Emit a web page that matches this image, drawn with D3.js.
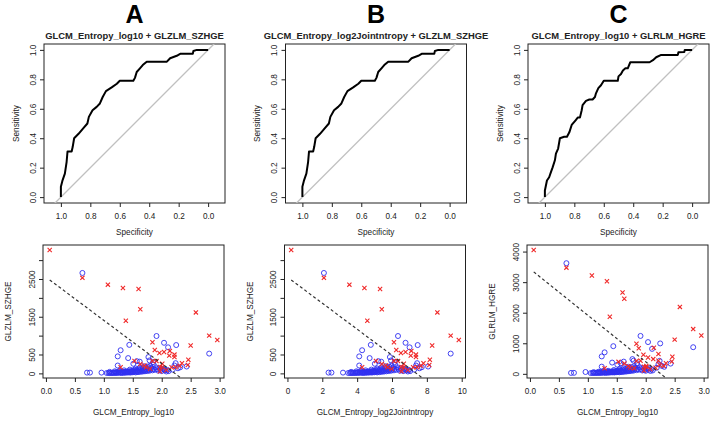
<!DOCTYPE html>
<html>
<head>
<meta charset="utf-8">
<script src="https://d3js.org/d3.v7.min.js"></script>
<style>
body { margin: 0; background: #fff; }
</style>
</head>
<body>
<svg id="fig" width="717" height="421"></svg>
<script>
// ---- text ----
var panelLetters = ["A", "B", "C"];
var rocTitles = ["GLCM_Entropy_log10 + GLZLM_SZHGE",
                 "GLCM_Entropy_log2Jointntropy + GLZLM_SZHGE",
                 "GLCM_Entropy_log10 + GLRLM_HGRE"];
var scatterXLabels = ["GLCM_Entropy_log10", "GLCM_Entropy_log2Jointntropy", "GLCM_Entropy_log10"];
var scatterYLabels = ["GLZLM_SZHGE", "GLZLM_SZHGE", "GLRLM_HGRE"];

// ---- tick values ----
var rocTicks = [1, 0.8, 0.6, 0.4, 0.2, 0];
var log10Ticks = [0, 0.5, 1, 1.5, 2, 2.5, 3];
var log2Ticks = [0, 2, 4, 6, 8, 10];
var szhgeTicks = [0, 500, 1000, 1500, 2000, 2500, 3000];
var szhgeLabelled = [0, 500, 1500, 2500];
var hgreTicks = [0, 1000, 2000, 3000, 4000];

// ---- ROC curves (B uses the same model as A: log2 is a rescaled log10) ----
var rocASpec = [1.0,1.0,0.99,0.973,0.961,0.955,0.927,0.92,0.91,0.88,0.85,0.82,0.81,0.785,0.757,0.735,0.716,0.694,0.655,0.62,0.60,0.508,0.497,0.485,0.463,0.444,0.417,0.28,0.258,0.213,0.19,0.104,0.10,0.077,0.0];
var rocASens = [0.0,0.07,0.11,0.16,0.24,0.31,0.31,0.34,0.40,0.43,0.465,0.50,0.545,0.59,0.613,0.636,0.68,0.72,0.745,0.77,0.79,0.79,0.81,0.85,0.875,0.897,0.92,0.92,0.943,0.96,0.973,0.973,0.993,1.0,1.0];
var rocCSpec = [1.0,1.0,0.986,0.971,0.959,0.948,0.932,0.925,0.91,0.898,0.869,0.85,0.834,0.818,0.793,0.777,0.762,0.75,0.744,0.721,0.698,0.676,0.66,0.653,0.637,0.619,0.60,0.505,0.50,0.483,0.47,0.453,0.437,0.42,0.289,0.266,0.244,0.21,0.097,0.093,0.053,0.05,0.0];
var rocCSens = [0.0,0.045,0.113,0.135,0.17,0.20,0.25,0.295,0.33,0.40,0.41,0.41,0.44,0.49,0.52,0.54,0.54,0.59,0.625,0.654,0.663,0.663,0.68,0.705,0.74,0.76,0.79,0.79,0.82,0.836,0.86,0.875,0.875,0.916,0.916,0.93,0.95,0.966,0.966,0.984,0.985,1.0,1.0];

// ---- scatter: red crosses (events) ----
var redEntropy = [0.065,0.63,1.07,1.33,1.60,1.63,1.38,2.59,2.82,2.96,2.50,1.84,1.88,1.96,2.04,2.13,2.14,2.22,2.22,2.35,2.46,2.45,1.53,1.63,1.84,1.91,2.01,1.29,1.73,1.97,2.24,2.08,1.80,1.97,2.17,2.31,1.70,2.01];
var redSZHGE = [3270,2530,2350,2260,2235,1700,1395,1615,1000,885,740,825,620,540,568,470,595,497,432,270,362,220,330,250,325,325,255,160,165,170,160,90,119,54,162,200,208,162];
var redHGRE = [4054,3474,3216,3028,2660,2459,1866,2190,1464,1252,1119,985,838,626,536,482,851,650,430,348,560,402,392,335,420,430,258,181,201,230,291,150,180,110,200,260,250,220];

// ---- scatter: blue circles (non-events) ----
var blueEntropy = [0.63,0.71,0.76,0.96,1.91,2.04,2.25,2.11,1.44,1.29,1.24,2.82,1.77,1.24,1.42,1.79,1.85,2.24,2.43,2.22,2.19,2.28,2.05,1.57,1.51,1.62,2.32,
  1.05,1.08,1.10,1.12,1.14,1.15,1.17,1.18,1.20,1.21,1.22,1.24,1.25,1.26,1.28,1.29,1.30,1.31,1.32,1.33,1.34,1.35,1.36,1.37,1.38,1.39,1.40,1.41,1.42,1.43,1.44,1.45,1.46,1.47,1.48,1.49,1.50,1.51,1.52,1.53,1.54,1.55,1.56,1.57,1.58,1.59,1.60,1.61,1.62,1.63,1.64,1.65,1.66,1.67,1.68,1.69,1.70,1.71,1.72,1.73,1.74,1.75,1.76,1.77,1.78,1.79,1.80,1.81,1.82,1.84,1.85,1.86,1.88,1.90,1.92,1.94,1.96,1.98,2.00,2.02,2.05,2.08,2.10,2.12,
  1.10,1.19,1.27,1.35,1.45,1.55,1.62,1.70];
var blueSZHGE = [2660,20,20,20,990,810,750,690,755,613,450,524,432,208,405,343,297,270,181,208,100,135,100,324,254,310,162,
  10,12,8,15,10,20,12,18,25,10,30,15,22,35,18,28,12,40,20,30,15,45,25,35,18,50,28,40,22,60,32,45,20,55,35,70,28,48,85,38,60,25,95,45,70,33,110,55,80,40,120,60,90,48,140,70,100,55,160,80,115,62,180,90,130,70,200,100,150,80,120,230,95,160,110,70,140,90,60,120,80,50,90,60,
  40,55,70,80,100,130,150,190];
var blueHGRE = [3620,30,33,60,1240,1039,995,817,905,703,570,871,482,235,368,430,350,425,335,315,200,260,180,348,300,400,230,
  25,30,28,35,30,40,32,38,45,30,50,35,42,55,40,48,35,60,42,52,38,65,48,58,42,72,52,62,46,85,55,70,45,80,60,95,54,74,110,62,88,52,125,72,98,60,140,82,110,68,155,90,120,76,175,100,135,85,200,112,150,95,220,125,170,105,250,140,195,120,160,285,135,210,150,110,190,130,100,170,130,95,150,110,
  55,70,90,100,125,160,185,230];

// ---- fitted decision boundaries (dashed): SZHGE/HGRE = a + b * entropy ----
var boundaryIntercept = [2549, 2549, 3435];
var boundarySlope = [-1145, -344.7, -1520];
var log2PerLog10 = 3.3219; // log2(E) = log10(E) / log10(2)

// ---- layout ----
var panelShift = [0, 241.5, 484];
var rocBox = {left: 44, right: 225, top: 44, bottom: 203};
var scatBox = {left: 43, right: 224, top: 245, bottom: 378};
var font = "'Liberation Sans', Arial, Helvetica, sans-serif";
var ink = "#222";
var redCol = "#f02828", blueCol = "#3030f0";

var svg = d3.select("#fig");

function styleAxis(ax) {
    ax.attr("font-family", font).attr("font-size", 8.2);
    ax.select(".domain").remove();
    ax.selectAll("line").attr("stroke", ink);
    ax.selectAll("text").attr("fill", ink);
}

function xAxis(g, scale, ticks, fmt, y0) {
    var ax = g.append("g")
        .attr("transform", "translate(0," + y0 + ")")
        .call(d3.axisBottom(scale).tickValues(ticks).tickFormat(fmt).tickSize(4).tickPadding(6));
    styleAxis(ax);
}

function yAxis(g, scale, ticks, fmt, x0) {
    var ax = g.append("g")
        .attr("transform", "translate(" + x0 + ",0)")
        .call(d3.axisLeft(scale).tickValues(ticks).tickFormat(fmt).tickSize(4));
    styleAxis(ax);
    ax.selectAll("text")
        .attr("x", 0).attr("y", -8.5).attr("dy", null)
        .attr("transform", "rotate(-90)")
        .attr("text-anchor", "middle");
}

function frame(g, box, id) {
    g.append("clipPath").attr("id", id)
        .append("rect")
        .attr("x", box.left).attr("y", box.top)
        .attr("width", box.right - box.left).attr("height", box.bottom - box.top);
    g.append("rect")
        .attr("x", box.left).attr("y", box.top)
        .attr("width", box.right - box.left).attr("height", box.bottom - box.top)
        .attr("fill", "none").attr("stroke", ink).attr("stroke-width", 1);
}

function label(g, txt, x, y, size, rotate, weight) {
    var t = g.append("text")
        .attr("font-family", font).attr("font-size", size)
        .attr("font-weight", weight || "normal")
        .attr("fill", ink).attr("text-anchor", "middle")
        .text(txt);
    if (rotate) t.attr("transform", "translate(" + x + "," + y + ") rotate(-90)");
    else t.attr("x", x).attr("y", y);
    return t;
}

function drawRoc(i, spec, sens) {
    var g = svg.append("g").attr("transform", "translate(" + panelShift[i] + ",0)");
    var b = rocBox;
    // asp = 1: both axes share the same pixels per unit
    var y = d3.scaleLinear().domain([-0.04, 1.04]).range([b.bottom, b.top]);
    var k = (b.bottom - b.top) / 1.08;
    var half = (b.right - b.left) / 2 / k;
    var x = d3.scaleLinear().domain([0.5 + half, 0.5 - half]).range([b.left, b.right]);

    frame(g, b, "rocclip" + i);

    g.append("line")
        .attr("clip-path", "url(#rocclip" + i + ")")
        .attr("x1", x(1 + 1)).attr("y1", y(-1))
        .attr("x2", x(-1)).attr("y2", y(2))
        .attr("stroke", "#c0c0c0").attr("stroke-width", 1.3);

    var pts = spec.map(function(d, j) { return [d, sens[j]]; });
    g.append("path")
        .datum(pts)
        .attr("fill", "none").attr("stroke", "#000").attr("stroke-width", 2)
        .attr("stroke-linejoin", "round")
        .attr("d", d3.line().x(function(d) { return x(d[0]); }).y(function(d) { return y(d[1]); }));

    xAxis(g, x, rocTicks, d3.format(".1f"), b.bottom);
    yAxis(g, y, rocTicks, d3.format(".1f"), b.left);

    label(g, "Specificity", (b.left + b.right) / 2, 235, 8.2);
    label(g, "Sensitivity", 18.5, (b.top + b.bottom) / 2, 8.2, true);
    label(g, rocTitles[i], (b.left + b.right) / 2, 38.5, 9.4, false, "bold");
    label(g, panelLetters[i], (b.left + b.right) / 2, 23, 25, false, "bold").attr("fill", "#000");
}

function padded(ext) {
    var r = ext[1] - ext[0];
    return [ext[0] - 0.04 * r, ext[1] + 0.04 * r];
}

function drawScatter(i, redX, redY, blueX, blueY, xTicks, xFmt, yTicks, yFmt) {
    var g = svg.append("g").attr("transform", "translate(" + panelShift[i] + ",0)");
    var b = scatBox;
    var allX = redX.concat(blueX), allY = redY.concat(blueY);
    var x = d3.scaleLinear().domain(padded(d3.extent(allX))).range([b.left, b.right]);
    var y = d3.scaleLinear().domain(padded(d3.extent(allY))).range([b.bottom, b.top]);

    frame(g, b, "scclip" + i);

    var plot = g.append("g").attr("clip-path", "url(#scclip" + i + ")");

    // blue circles
    plot.selectAll("circle")
        .data(blueX.map(function(d, j) { return [d, blueY[j]]; }))
        .enter().append("circle")
        .attr("cx", function(d) { return x(d[0]); })
        .attr("cy", function(d) { return y(d[1]); })
        .attr("r", 2.5)
        .attr("fill", "none").attr("stroke", blueCol).attr("stroke-width", 0.9);

    // red crosses
    var s = 2.1;
    plot.selectAll("path.cross")
        .data(redX.map(function(d, j) { return [d, redY[j]]; }))
        .enter().append("path")
        .attr("class", "cross")
        .attr("d", function(d) {
            var cx = x(d[0]), cy = y(d[1]);
            return "M" + (cx - s) + "," + (cy - s) + "L" + (cx + s) + "," + (cy + s) +
                   "M" + (cx - s) + "," + (cy + s) + "L" + (cx + s) + "," + (cy - s);
        })
        .attr("stroke", redCol).attr("stroke-width", 1.1);

    // decision boundary
    var a = boundaryIntercept[i], sl = boundarySlope[i];
    var x0 = d3.min(allX);
    var x1 = (y.domain()[0] - a) / sl;
    plot.append("line")
        .attr("x1", x(x0)).attr("y1", y(a + sl * x0))
        .attr("x2", x(x1)).attr("y2", y(a + sl * x1))
        .attr("stroke", "#333").attr("stroke-width", 1.2)
        .attr("stroke-dasharray", "3,2.5");

    xAxis(g, x, xTicks, xFmt, b.bottom);
    yAxis(g, y, yTicks, yFmt, b.left);

    label(g, scatterXLabels[i], (b.left + b.right) / 2, 415, 8.2);
    label(g, scatterYLabels[i], 11, (b.top + b.bottom) / 2, 8.2, true);
}

drawRoc(0, rocASpec, rocASens);
drawRoc(1, rocASpec, rocASens);
drawRoc(2, rocCSpec, rocCSens);

var szhgeFmt = function(d) { return szhgeLabelled.indexOf(d) >= 0 ? d : ""; };
var blueLog2 = blueEntropy.map(function(d) { return d * log2PerLog10; });
var redLog2 = redEntropy.map(function(d) { return d * log2PerLog10; });

drawScatter(0, redEntropy, redSZHGE, blueEntropy, blueSZHGE, log10Ticks, d3.format(".1f"), szhgeTicks, szhgeFmt);
drawScatter(1, redLog2, redSZHGE, blueLog2, blueSZHGE, log2Ticks, d3.format("d"), szhgeTicks, szhgeFmt);
drawScatter(2, redEntropy, redHGRE, blueEntropy, blueHGRE, log10Ticks, d3.format(".1f"), hgreTicks, d3.format("d"));
</script>
</body>
</html>
